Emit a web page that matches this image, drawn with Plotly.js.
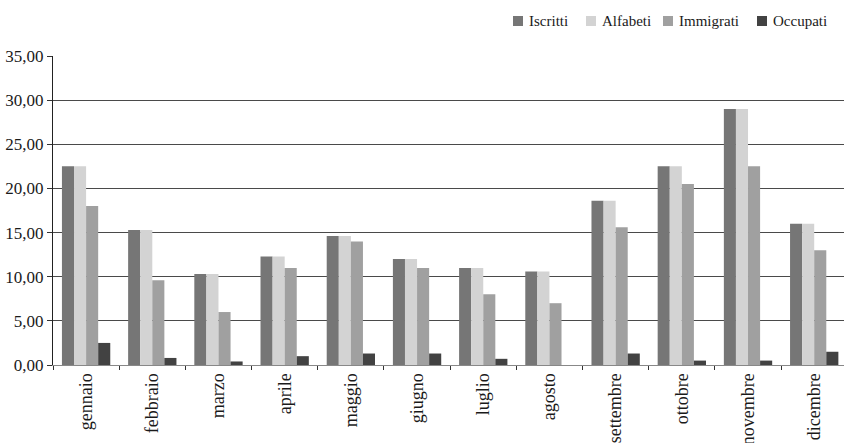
<!DOCTYPE html>
<html>
<head>
<meta charset="utf-8">
<script src="https://cdn.plot.ly/plotly-3.0.1.min.js"></script>
<style>
  html, body { margin: 0; padding: 0; background: #fff; }
  #chart { width: 844px; height: 443px; }
</style>
</head>
<body>
<div id="chart"></div>
<script>
// Monthly values per group
const mesi = ['gennaio', 'febbraio', 'marzo', 'aprile', 'maggio', 'giugno',
              'luglio', 'agosto', 'settembre', 'ottobre', 'novembre', 'dicembre'];
const iscritti   = [22.5, 15.3, 10.3, 12.3, 14.6, 12.0, 11.0, 10.6, 18.6, 22.5, 29.0, 16.0];
const alfabeti   = [22.5, 15.3, 10.3, 12.3, 14.6, 12.0, 11.0, 10.6, 18.6, 22.5, 29.0, 16.0];
const immigrati  = [18.0,  9.6,  6.0, 11.0, 14.0, 11.0,  8.0,  7.0, 15.6, 20.5, 22.5, 13.0];
const occupati   = [ 2.5,  0.8,  0.4,  1.0,  1.3,  1.3,  0.7,  0.0,  1.3,  0.5,  0.5,  1.5];
const yTicks     = [0, 5, 10, 15, 20, 25, 30, 35];

const serie = [
  { name: 'Iscritti',  y: iscritti,  color: '#767676' },
  { name: 'Alfabeti',  y: alfabeti,  color: '#d3d3d3' },
  { name: 'Immigrati', y: immigrati, color: '#a0a0a0' },
  { name: 'Occupati',  y: occupati,  color: '#424242' }
];

const traces = serie.map(s => ({
  type: 'bar',
  name: s.name,
  x: mesi,
  y: s.y,
  marker: { color: s.color, line: { width: 0 } },
  hoverinfo: 'x+y+name'
}));

const serif = '"Liberation Serif", "Times New Roman", serif';

// Plot area in pixels, used to place the compact key above the plot
const W = 844, H = 443;
const M = { l: 53, r: 0, t: 56, b: 78 };
const plotW = W - M.l - M.r, plotH = H - M.t - M.b;
const px = x => (x - M.l) / plotW;
const py = y => (H - M.b - y) / plotH;

// Key: swatch left edges (px) along the top row
const keyX = [513, 586, 663, 757];
const keyTop = 16, keySize = 10, keyGap = 4;

const shapes = serie.map((s, i) => ({
  type: 'rect', xref: 'paper', yref: 'paper',
  x0: px(keyX[i]), x1: px(keyX[i] + keySize),
  y0: py(keyTop + keySize), y1: py(keyTop),
  fillcolor: s.color, line: { width: 0 }
}));

const annotations = serie.map((s, i) => ({
  xref: 'paper', yref: 'paper',
  x: px(keyX[i] + keySize + keyGap), xanchor: 'left',
  y: py(keyTop + keySize / 2), yanchor: 'middle',
  text: s.name, showarrow: false,
  font: { family: serif, size: 15, color: '#1a1a1a' }
}));

const layout = {
  width: W,
  height: H,
  paper_bgcolor: '#ffffff',
  plot_bgcolor: '#ffffff',
  margin: { l: M.l, r: M.r, t: M.t, b: M.b, pad: 0 },
  separators: ',.',
  barmode: 'group',
  bargap: 0.27,
  bargroupgap: 0,
  font: { family: serif, size: 17, color: '#1a1a1a' },
  showlegend: false,
  shapes: shapes,
  annotations: annotations,
  xaxis: {
    type: 'category',
    range: [-0.5, 11.45],
    tickangle: -90,
    tickson: 'boundaries',
    ticks: 'outside',
    ticklen: 4,
    tickcolor: '#333',
    showline: true,
    linecolor: '#888',
    linewidth: 1,
    showgrid: false,
    zeroline: false,
    tickfont: { family: serif, size: 18, color: '#1a1a1a' }
  },
  yaxis: {
    range: [0, 35],
    tickvals: yTicks,
    tickformat: '.2f',
    ticks: 'outside',
    ticklen: 5,
    tickcolor: '#333',
    showline: true,
    linecolor: '#222',
    linewidth: 1,
    showgrid: true,
    gridcolor: '#4a4a4a',
    gridwidth: 1,
    zeroline: false,
    tickfont: { family: serif, size: 17, color: '#1a1a1a' }
  }
};

Plotly.newPlot('chart', traces, layout, { displayModeBar: false, staticPlot: true });
</script>
</body>
</html>
